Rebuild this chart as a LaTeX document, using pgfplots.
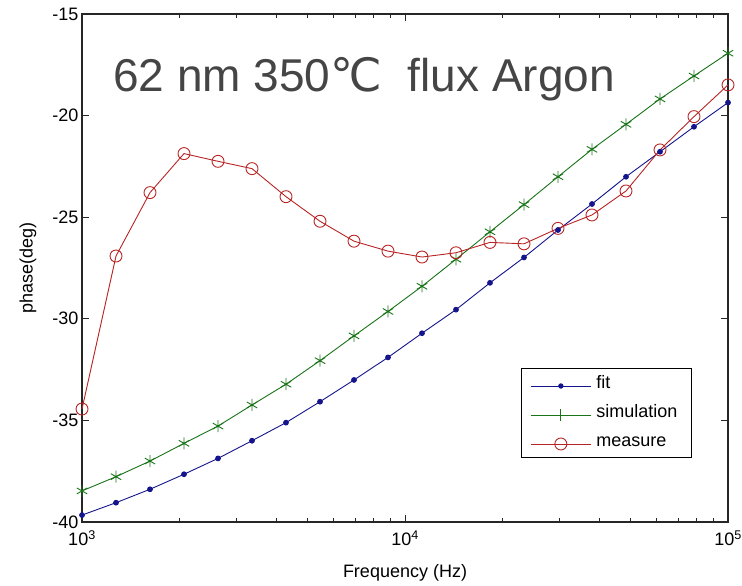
\documentclass[border=0pt]{standalone}
\usepackage{fontspec}
\setmainfont{Liberation Sans}
\newfontfamily\dejavu{DejaVu Sans}
\usepackage{pgfplots}
\pgfplotsset{compat=1.18}

\definecolor{fitblue}{rgb}{0.08,0.08,0.55}
\definecolor{simgreen}{rgb}{0.10,0.45,0.10}
\definecolor{measred}{rgb}{0.72,0.14,0.14}
\definecolor{titlegray}{rgb}{0.27,0.27,0.27}
\newcommand\labelfont{\fontsize{18bp}{21bp}\selectfont}

\begin{document}
\begin{tikzpicture}
\useasboundingbox (-82bp,-64bp) rectangle (660bp,522bp);
\begin{axis}[
  at={(0,0)}, anchor=south west,
  scale only axis, width=646bp, height=508bp,
  clip=false,
  xmode=log, xmin=1000, xmax=100000,
  ymin=-40, ymax=-15,
  xtick={1000,10000,100000},
  xticklabels={10\textsuperscript{3},10\textsuperscript{4},10\textsuperscript{5}},
  minor xtick={2000,3000,4000,5000,6000,7000,8000,9000,20000,30000,40000,50000,60000,70000,80000,90000},
  ytick={-40,-35,-30,-25,-20,-15},
  yticklabels={-40,-35,-30,-25,-20,-15},
  tick align=inside, tick pos=both,
  major tick length=7bp, minor tick length=4.5bp,
  axis line style={line width=1.2bp, black!85},
  every tick/.style={line width=0.9bp, black!85},
  ticklabel style={font=\labelfont},
  xticklabel style={yshift=-5bp},
  xlabel={Frequency (Hz)}, ylabel={phase(deg)},
  label style={font=\labelfont},
  xlabel style={at={(axis description cs:0.5,-0.1096)}, anchor=base},
  ylabel style={at={(axis description cs:-0.0836,0.5)}, anchor=center},
  legend style={at={(0.944,0.126)}, anchor=south east, draw=black, line width=1bp,
    fill=white, font=\labelfont, inner xsep=9bp, inner ysep=1bp,
    nodes={text height=14bp, text depth=4bp, inner ysep=5.5bp, inner xsep=5bp}},
  legend cell align=left,
  legend image code/.code={\draw[mark repeat=2,mark phase=2]
    plot coordinates {(0bp,-2bp) (30bp,-2bp) (60bp,-2bp)};},
]

\addlegendimage{fitblue, line width=0.9bp, mark=*, mark size=2.2bp, mark options={solid}}
\addlegendentry{fit}
\addlegendimage{simgreen, line width=0.9bp, mark=+, mark size=6bp, mark options={solid}}
\addlegendentry{simulation}
\addlegendimage{measred, line width=0.9bp, mark=o, mark size=6bp, mark options={solid}}
\addlegendentry{measure}

% fitted model
\addplot[forget plot, fitblue, line width=0.9bp, mark=*, mark size=2.4bp] coordinates {
  (1000,-39.66) (1274.3,-39.05) (1623.8,-38.39) (2069.1,-37.65) (2636.7,-36.87)
  (3359.8,-36.00) (4281.3,-35.11) (5455.5,-34.08) (6951.8,-33.01) (8858.5,-31.90)
  (11288,-30.71) (14384,-29.55) (18329,-28.23) (23356,-26.98) (29762,-25.63)
  (37925,-24.35) (48327,-23.01) (61580,-21.78) (78470,-20.55) (100000,-19.36)};

% simulation
\addplot[forget plot, simgreen, line width=0.9bp, mark=asterisk, mark size=6bp] coordinates {
  (1000,-38.47) (1274.3,-37.77) (1623.8,-37.00) (2069.1,-36.13) (2636.7,-35.28)
  (3359.8,-34.24) (4281.3,-33.22) (5455.5,-32.06) (6951.8,-30.84) (8858.5,-29.64)
  (11288,-28.40) (14384,-27.07) (18329,-25.72) (23356,-24.38) (29762,-23.01)
  (37925,-21.66) (48327,-20.43) (61580,-19.18) (78470,-18.05) (100000,-16.93)};

% measured phase
\addplot[forget plot, measred, line width=0.9bp, mark=o, mark size=6bp] coordinates {
  (1000,-34.44) (1274.3,-26.91) (1623.8,-23.79) (2069.1,-21.87) (2636.7,-22.25)
  (3359.8,-22.61) (4281.3,-23.99) (5455.5,-25.20) (6951.8,-26.18) (8858.5,-26.67)
  (11288,-26.96) (14384,-26.75) (18329,-26.24) (23356,-26.31) (29762,-25.55)
  (37925,-24.89) (48327,-23.71) (61580,-21.69) (78470,-20.05) (100000,-18.49)};

\node[anchor=base west, text=titlegray, inner sep=0pt,
      font=\fontsize{46bp}{50bp}\selectfont]
  at (rel axis cs:0.048,0.848) {62 nm 350{\dejavu ℃}\ \ flux Argon};
\end{axis}
\end{tikzpicture}
\end{document}
